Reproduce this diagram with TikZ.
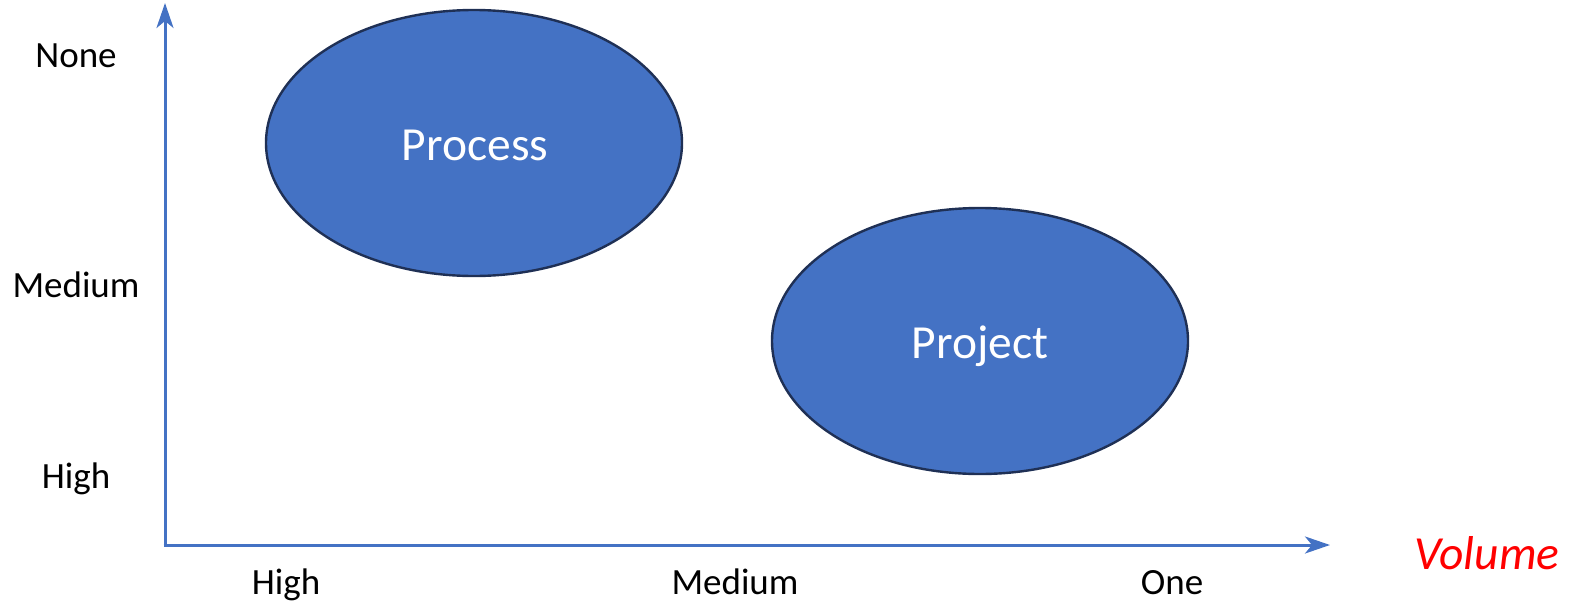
\documentclass[tikz,border=0pt]{standalone}
\usepackage{fontspec}
\setmainfont{Carlito}
\usetikzlibrary{arrows.meta,shapes.geometric}
\definecolor{axisblue}{HTML}{4472C4}
\definecolor{fillblue}{HTML}{4472C4}
\definecolor{edgeblue}{HTML}{1F3055}
\begin{document}
\begin{tikzpicture}[x=1pt,y=-1pt,
  axis/.style={draw=axisblue,line width=3pt,-{Stealth[length=25pt,width=17pt,inset=7pt]}},
  blob/.style={ellipse,fill=fillblue,draw=edgeblue,line width=2.4pt,minimum width=416pt,minimum height=266pt,inner sep=0pt},
  blobtext/.style={text=white,font=\fontsize{47.5}{54}\selectfont,anchor=base},
  lbl/.style={font=\fontsize{37}{42}\selectfont,anchor=base,inner sep=0pt},
  title/.style={font=\itshape\fontsize{47.5}{54}\selectfont,text=red,anchor=base,inner sep=0pt}]
\useasboundingbox (0,0) rectangle (1576,608);
\coordinate (ytip) at (165,3);
\coordinate (xtip) at (1330,545);
\draw[axis] (165,546.5) -- (ytip);
\draw[axis] (163.5,545) -- (xtip);
\node[blob] (process) at (474,143) {};
\node[blob] (project) at (980,341) {};
\node[blobtext] (ptext) at (475,160) {Process};
\node[blobtext] (jtext) at (980,358) {Project};
\node[lbl] (ynone) at (76,67) {None};
\node[lbl] (ymed) at (76,297) {Medium};
\node[lbl] (yhigh) at (76,488) {High};
\node[lbl] (xhigh) at (286,594) {High};
\node[lbl] (xmed) at (735,594) {Medium};
\node[lbl] (xone) at (1172,594) {One};
\node[title] (vol) at (1487,569) {Volume};
\end{tikzpicture}
\end{document}
